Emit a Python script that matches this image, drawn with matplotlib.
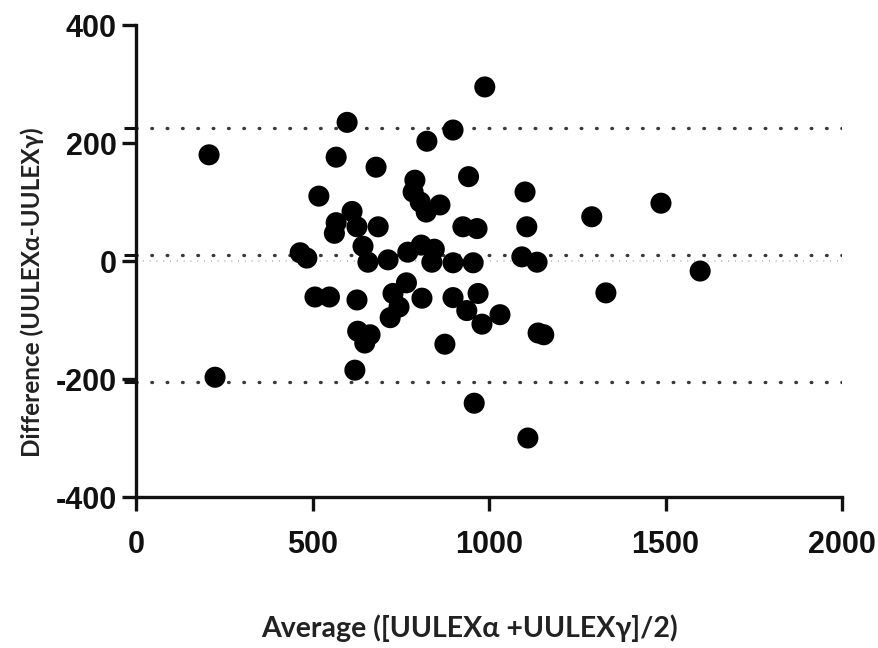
import matplotlib
matplotlib.use('Agg')
from matplotlib import pyplot as plt

plt.rcParams['axes.unicode_minus'] = False

# Bland-Altman data
avg = [207, 224, 465, 484, 507, 518, 548, 567, 567, 562,
       598, 612, 626, 626, 643, 620, 628, 663, 648, 657,
       680, 686, 714, 728, 745, 720, 766, 770, 808, 845,
       810, 790, 785, 805, 822, 861, 824, 838, 898, 955,
       898, 898, 875, 926, 966, 942, 937, 969, 980, 958,
       988, 1031, 1093, 1136, 1102, 1107, 1139, 1155, 1110, 1291,
       1331, 1487, 1598]
diff = [180, -197, 14, 5, -61, 110, -61, 176, 65, 47,
        235, 84, 58, -66, 25, -185, -119, -125, -139, -2,
        159, 58, 2, -55, -78, -96, -37, 15, 27, 20,
        -63, 137, 117, 100, 83, 95, 203, -2, -3, -3,
        222, -62, -141, 58, 55, 143, -84, -55, -107, -241,
        295, -91, 7, -2, 117, 58, -122, -125, -300, 75,
        -54, 98, -17]

bias = 10
upper = 225
lower = -205

fig = plt.figure(figsize=(8.79, 6.48), dpi=100)
ax = fig.add_axes([0.1547, 0.233, 0.8033, 0.7284])

ax.scatter(avg, diff, s=230, c='black', edgecolors='none', zorder=3)

# limits of agreement
for yv in [upper, bias, lower]:
    ax.plot([0, 2000], [yv, yv], color='#3a3a3a', lw=2.4,
            linestyle=(0, (0.2, 4.4)), dash_capstyle='round', zorder=2)
ax.plot([0, 2000], [0, 0], color='#bdbdbd', lw=1.4,
        linestyle=(0, (0.5, 3)), zorder=1)

ax.set_xlim(0, 2000)
ax.set_ylim(-400, 400)
ax.set_xticks([0, 500, 1000, 1500, 2000])
ax.set_yticks([-400, -200, 0, 200, 400])
ax.set_yticks([upper, bias, lower], minor=True)
ax.tick_params(axis='y', which='minor', length=9, width=2.2, color='#111')

for s in ['top', 'right']:
    ax.spines[s].set_visible(False)
for s in ['left', 'bottom']:
    ax.spines[s].set_linewidth(2.4)
    ax.spines[s].set_color('#111')

ax.tick_params(which='major', length=10, width=2.4, color='#111', pad=4)
for lab in ax.get_xticklabels() + ax.get_yticklabels():
    lab.set_fontfamily('Liberation Sans')
    lab.set_fontweight('bold')
    lab.set_fontsize(22)
    lab.set_color('#111')
ax.tick_params(axis='x', pad=14)

ax.set_xlabel('Average ([UULEXα +UULEXγ]/2)', family=['Lato', 'DejaVu Sans'],
              fontweight='bold', fontsize=20.5, color='#222', va='center')
ax.xaxis.set_label_coords(0.473, -0.278)
ax.set_ylabel('Difference (UULEXα-UULEXγ)', family=['Lato', 'DejaVu Sans'],
              fontweight='bold', fontsize=17.5, color='#222', va='center')
ax.yaxis.set_label_coords(-0.147, 0.434)

fig.savefig('out.png', dpi=100, facecolor='white')
